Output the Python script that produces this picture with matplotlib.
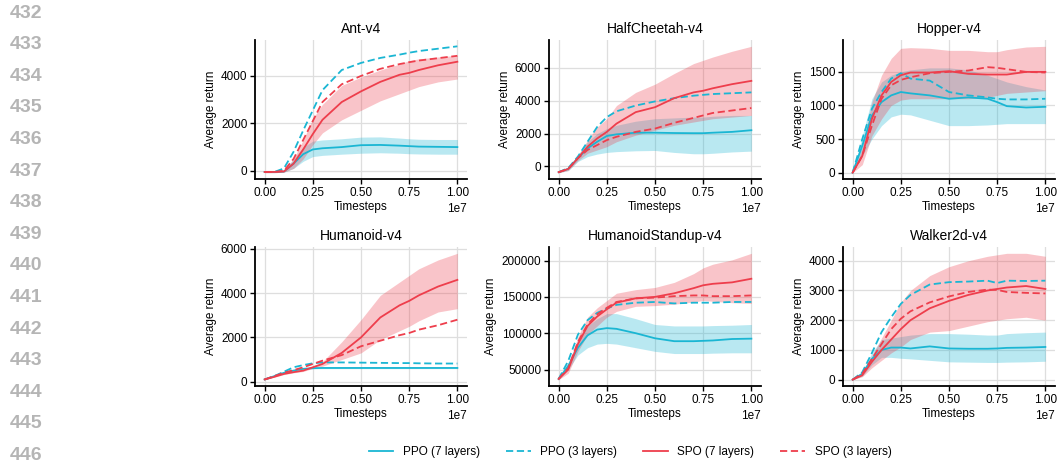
import matplotlib
matplotlib.use("Agg")
import matplotlib.pyplot as plt
from matplotlib.lines import Line2D

plt.rcParams['font.family'] = ['Liberation Sans', 'DejaVu Sans']

# timesteps (in units of 1e7)
steps = [0, .05, .1, .15, .2, .25, .3, .4, .5, .6, .7, .75, .8, .9, 1.0]

titles = ["Ant-v4", "HalfCheetah-v4", "Hopper-v4",
          "Humanoid-v4", "HumanoidStandup-v4", "Walker2d-v4"]
legend_labels = ["PPO (7 layers)", "PPO (3 layers)", "SPO (7 layers)", "SPO (3 layers)"]
line_numbers = list(range(432, 447))

# Ant-v4
ant_ppo7 = [-50, -50, -30, 300, 700, 900, 950, 1000, 1080, 1090, 1060, 1040, 1020, 1010, 1000]
ant_ppo7_lo = [-80, -80, -60, 100, 400, 600, 650, 700, 740, 760, 740, 720, 710, 700, 700]
ant_ppo7_hi = [-20, -20, 0, 500, 1000, 1250, 1300, 1350, 1420, 1430, 1380, 1350, 1330, 1320, 1320]
ant_ppo3 = [-50, -50, 100, 800, 1700, 2550, 3400, 4250, 4550, 4760, 4900, 4980, 5050, 5150, 5250]
ant_spo7 = [-50, -50, -30, 300, 900, 1550, 2150, 2900, 3350, 3750, 4050, 4130, 4250, 4450, 4600]
ant_spo7_lo = [-80, -80, -60, 100, 500, 1100, 1600, 2150, 2550, 2950, 3250, 3400, 3550, 3750, 3870]
ant_spo7_hi = [-20, -20, 0, 500, 1300, 2200, 2800, 3600, 3950, 4250, 4500, 4650, 4720, 4800, 4870]
ant_spo3 = [-50, -50, 0, 500, 1300, 2100, 2900, 3650, 4000, 4300, 4500, 4580, 4650, 4750, 4850]

# HalfCheetah-v4
hc_ppo7 = [-350, -150, 500, 1100, 1500, 1850, 1950, 2050, 2050, 2030, 2020, 2020, 2050, 2100, 2200]
hc_ppo7_lo = [-380, -250, 300, 600, 750, 850, 900, 950, 970, 850, 770, 770, 800, 880, 930]
hc_ppo7_hi = [-320, -50, 700, 1500, 2000, 2300, 2500, 2750, 2900, 2950, 3000, 3000, 3050, 3100, 3100]
hc_ppo3 = [-350, -100, 600, 1500, 2400, 3000, 3350, 3700, 3950, 4150, 4300, 4350, 4400, 4450, 4500]
hc_spo7 = [-350, -150, 500, 1200, 1700, 2100, 2600, 3300, 3600, 4150, 4500, 4600, 4750, 5000, 5200]
hc_spo7_lo = [-380, -250, 350, 800, 1000, 1200, 1500, 1900, 2200, 2500, 2700, 2800, 2900, 3000, 3100]
hc_spo7_hi = [-320, -50, 650, 1600, 2400, 2900, 3700, 4500, 5000, 5650, 6250, 6450, 6650, 7000, 7300]
hc_spo3 = [-350, -150, 500, 1000, 1300, 1600, 1800, 2100, 2300, 2650, 2950, 3100, 3250, 3400, 3550]

# Hopper-v4
hop_ppo7 = [0, 400, 850, 1050, 1150, 1200, 1180, 1150, 1100, 1120, 1100, 1050, 990, 970, 980]
hop_ppo7_lo = [0, 250, 500, 700, 830, 870, 860, 780, 700, 700, 710, 720, 730, 730, 730]
hop_ppo7_hi = [0, 550, 1100, 1350, 1450, 1500, 1530, 1560, 1560, 1530, 1450, 1400, 1350, 1280, 1230]
hop_ppo3 = [0, 500, 950, 1200, 1400, 1480, 1400, 1370, 1200, 1150, 1120, 1100, 1090, 1090, 1100]
hop_spo7 = [0, 250, 800, 1150, 1350, 1450, 1490, 1490, 1510, 1470, 1460, 1460, 1460, 1500, 1500]
hop_spo7_lo = [0, 120, 550, 800, 1000, 1080, 1100, 1100, 1100, 1100, 1120, 1150, 1180, 1200, 1220]
hop_spo7_hi = [0, 380, 1050, 1450, 1700, 1850, 1860, 1850, 1820, 1820, 1800, 1800, 1830, 1870, 1880]
hop_spo3 = [0, 250, 700, 1100, 1300, 1380, 1420, 1480, 1500, 1520, 1570, 1560, 1540, 1500, 1490]

# Humanoid-v4
hum_ppo7 = [100, 250, 400, 500, 580, 610, 620, 620, 620, 620, 620, 620, 620, 620, 620]
hum_ppo7_lo = [90, 220, 370, 470, 550, 580, 590, 590, 590, 590, 590, 590, 590, 590, 590]
hum_ppo7_hi = [110, 280, 430, 530, 610, 640, 650, 650, 650, 650, 650, 650, 650, 650, 650]
hum_ppo3 = [100, 250, 450, 650, 750, 830, 870, 870, 860, 850, 840, 840, 830, 820, 820]
hum_spo7 = [100, 220, 350, 430, 500, 650, 800, 1300, 2000, 2900, 3450, 3650, 3900, 4300, 4600]
hum_spo7_lo = [90, 200, 320, 400, 460, 600, 700, 1000, 1300, 1900, 2300, 2500, 2750, 3150, 3300]
hum_spo7_hi = [110, 240, 380, 460, 540, 700, 900, 1800, 2800, 3900, 4500, 4800, 5100, 5500, 5800]
hum_spo3 = [100, 250, 400, 520, 650, 800, 950, 1200, 1600, 1850, 2100, 2200, 2350, 2550, 2800]

# HumanoidStandup-v4
hs_ppo7 = [37000, 55000, 80000, 97000, 105000, 107000, 106000, 100000, 93000, 89000, 89000, 89500, 90000, 92000, 92500]
hs_ppo7_lo = [36000, 50000, 70000, 80000, 85000, 86000, 85000, 80000, 75000, 72000, 72000, 72000, 72500, 73000, 73000]
hs_ppo7_hi = [38000, 60000, 90000, 110000, 120000, 127000, 127000, 120000, 112000, 110000, 110000, 110000, 110500, 111000, 112000]
hs_ppo3 = [37000, 62000, 98000, 118000, 128000, 134000, 139000, 142000, 143000, 141000, 142000, 142000, 142000, 143000, 143000]
hs_spo7 = [37000, 50000, 85000, 110000, 123000, 133000, 142000, 148000, 150000, 155000, 162000, 166000, 168000, 170000, 175000]
hs_spo7_lo = [36000, 45000, 75000, 98000, 110000, 122000, 130000, 137000, 138000, 140000, 143000, 145000, 144000, 142000, 141000]
hs_spo7_hi = [38000, 55000, 95000, 122000, 135000, 145000, 155000, 160000, 163000, 170000, 182000, 190000, 195000, 201000, 210000]
hs_spo3 = [37000, 52000, 88000, 112000, 126000, 135000, 143000, 148000, 149000, 151000, 152000, 152000, 151000, 151000, 152000]

# Walker2d-v4
wk_ppo7 = [0, 200, 700, 1000, 1080, 1080, 1050, 1120, 1050, 1040, 1040, 1050, 1070, 1080, 1100]
wk_ppo7_lo = [0, 120, 500, 750, 750, 720, 700, 650, 600, 590, 580, 580, 590, 600, 620]
wk_ppo7_hi = [0, 280, 900, 1350, 1400, 1450, 1500, 1550, 1550, 1530, 1500, 1500, 1550, 1580, 1600]
wk_ppo3 = [0, 250, 900, 1600, 2100, 2550, 2850, 3200, 3280, 3300, 3330, 3250, 3330, 3320, 3330]
wk_spo7 = [0, 150, 600, 1000, 1350, 1700, 2000, 2400, 2650, 2850, 3000, 3050, 3100, 3150, 3050]
wk_spo7_lo = [0, 100, 400, 650, 900, 1100, 1350, 1600, 1650, 1800, 1950, 2000, 2050, 2100, 2000]
wk_spo7_hi = [0, 200, 800, 1400, 2000, 2600, 3000, 3500, 3800, 4000, 4150, 4200, 4250, 4250, 4150]
wk_spo3 = [0, 200, 700, 1200, 1700, 2050, 2300, 2600, 2800, 2950, 3030, 3020, 2950, 2920, 2900]

yticks = [
    [0, 2000, 4000],
    [0, 2000, 4000, 6000],
    [0, 500, 1000, 1500],
    [0, 2000, 4000, 6000],
    [50000, 100000, 150000, 200000],
    [0, 1000, 2000, 3000, 4000],
]

panels = [
    (ant_ppo7, ant_ppo7_lo, ant_ppo7_hi, ant_ppo3, ant_spo7, ant_spo7_lo, ant_spo7_hi, ant_spo3),
    (hc_ppo7, hc_ppo7_lo, hc_ppo7_hi, hc_ppo3, hc_spo7, hc_spo7_lo, hc_spo7_hi, hc_spo3),
    (hop_ppo7, hop_ppo7_lo, hop_ppo7_hi, hop_ppo3, hop_spo7, hop_spo7_lo, hop_spo7_hi, hop_spo3),
    (hum_ppo7, hum_ppo7_lo, hum_ppo7_hi, hum_ppo3, hum_spo7, hum_spo7_lo, hum_spo7_hi, hum_spo3),
    (hs_ppo7, hs_ppo7_lo, hs_ppo7_hi, hs_ppo3, hs_spo7, hs_spo7_lo, hs_spo7_hi, hs_spo3),
    (wk_ppo7, wk_ppo7_lo, wk_ppo7_hi, wk_ppo3, wk_spo7, wk_spo7_lo, wk_spo7_hi, wk_spo3),
]

PPO_C = '#1ab6d3'
SPO_C = '#ee3e4c'

W, H = 1059, 465
fig = plt.figure(figsize=(W / 100, H / 100), dpi=100)

# axes boxes in pixels: left column edges, (top, bottom) per row
lefts = [255, 549, 843]
rows = [(40, 179), (247, 386)]

ts = [s * 1e7 for s in steps]

for i, (title, data) in enumerate(zip(titles, panels)):
    r, c = divmod(i, 3)
    top, bottom = rows[r]
    left = lefts[c]
    ax = fig.add_axes([left / W, 1 - bottom / H, 212 / W, (bottom - top) / H])
    ppo7, ppo7_lo, ppo7_hi, ppo3, spo7, spo7_lo, spo7_hi, spo3 = data

    ax.fill_between(ts, ppo7_lo, ppo7_hi, color=PPO_C, alpha=0.3, lw=0)
    ax.fill_between(ts, spo7_lo, spo7_hi, color=SPO_C, alpha=0.3, lw=0)
    ax.plot(ts, ppo7, color=PPO_C, lw=1.3)
    ax.plot(ts, ppo3, color=PPO_C, lw=1.3, ls=(0, (4, 2)))
    ax.plot(ts, spo7, color=SPO_C, lw=1.3)
    ax.plot(ts, spo3, color=SPO_C, lw=1.3, ls=(0, (4, 2)))

    ax.set_xticks([0, 2.5e6, 5e6, 7.5e6, 1e7])
    ax.set_yticks(yticks[i])
    ax.ticklabel_format(axis='y', style='plain')
    ax.grid(True, color='#dedede', lw=0.9)
    ax.set_axisbelow(True)
    for s in ['top', 'right']:
        ax.spines[s].set_visible(False)
    for s in ['left', 'bottom']:
        ax.spines[s].set_linewidth(1.3)
        ax.spines[s].set_color('black')
    ax.tick_params(labelsize=8.5, length=3.5, width=1, color='black', pad=2)
    ax.xaxis.get_offset_text().set_fontsize(8.5)
    ax.set_title(title, fontsize=10, pad=5)
    ax.set_xlabel("Timesteps", fontsize=8.5, labelpad=2)
    ax.set_ylabel("Average return", fontsize=8.5, labelpad=3)

handles = [
    Line2D([], [], color=PPO_C, lw=1.3),
    Line2D([], [], color=PPO_C, lw=1.3, ls=(0, (4, 2))),
    Line2D([], [], color=SPO_C, lw=1.3),
    Line2D([], [], color=SPO_C, lw=1.3, ls=(0, (4, 2))),
]
fig.legend(handles, legend_labels, loc='center', bbox_to_anchor=(630 / W, 1 - 452 / H),
           ncol=4, frameon=False, fontsize=8.5, handlelength=2.1, handletextpad=0.8,
           columnspacing=2.2)

# page line numbers on the left margin
for k, n in enumerate(line_numbers):
    fig.text(10 / W, 1 - (13 + 31.6 * k) / H, str(n), fontsize=14, color='#b5b5b5',
             fontweight='bold', va='center', ha='left')

fig.savefig("out.png", dpi=100)
